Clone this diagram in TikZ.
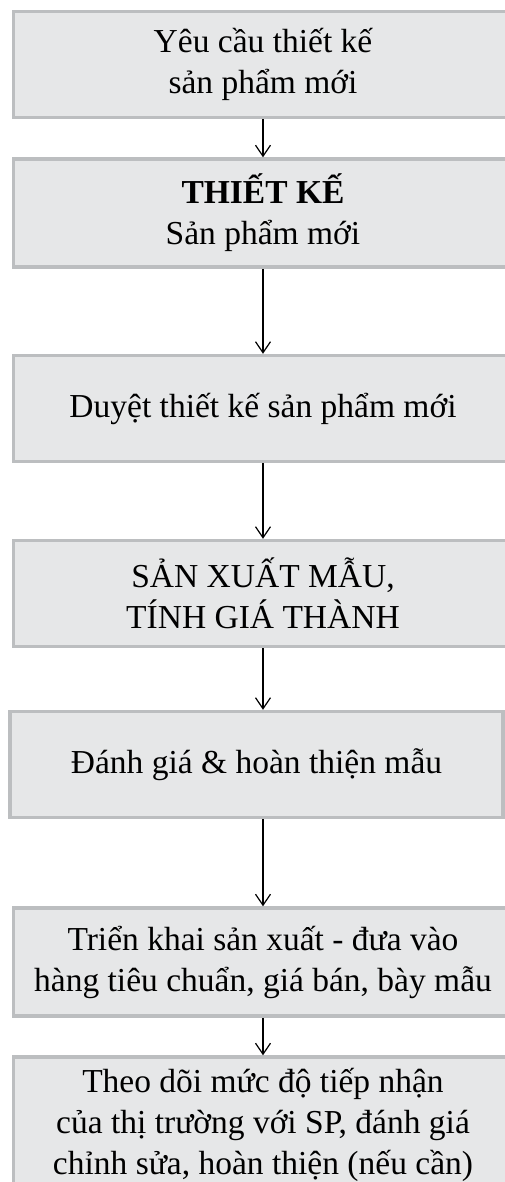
\documentclass[tikz,border=0pt]{standalone}
\usepackage{fontspec}
\setmainfont{Liberation Serif}
\usepackage{xcolor}
\usetikzlibrary{arrows.meta}

\definecolor{boxfill}{HTML}{E6E7E8}
\definecolor{boxline}{HTML}{BCBEC0}

\begin{document}
\begin{tikzpicture}[x=1bp, y=-1bp,
    box/.style={draw=boxline, fill=boxfill, line width=3.5bp, minimum width=499bp,
        minimum height=106bp, inner sep=0pt, align=center,
        font=\fontsize{33.5bp}{41bp}\selectfont},
    flow/.style={-{Straight Barb[length=11bp, width=15bp]}, line width=1.2bp}]
                \useasboundingbox[fill=white] (0, 0) rectangle (505, 1182);
                \clip (0, 0) rectangle (505, 1182);

                \node[box] (req) at (263, 64.5) {Yêu cầu thiết kế\\sản phẩm mới};
                \node[box, minimum height=108bp] (design) at (263, 213) {\textbf{THIẾT KẾ}\\Sản phẩm mới};
                \node[box] (review) at (263, 408.5) {Duyệt thiết kế sản phẩm mới};
                \node[box] (sample) at (263, 593.5) {SẢN XUẤT MẪU,\\TÍNH GIÁ THÀNH};
                \node[box, minimum width=493bp] (assess) at (256.5, 764.5) {Đánh giá \& hoàn thiện mẫu};
                \node[box, minimum height=108bp] (deploy) at (263, 962) {Triển khai sản xuất - đưa vào\\hàng tiêu chuẩn, giá bán, bày mẫu};
                \node[box, minimum height=136bp] (monitor) at (263, 1125) {Theo dõi mức độ tiếp nhận\\của thị trường với SP, đánh giá\\chỉnh sửa, hoàn thiện (nếu cần)};

                \draw[flow]
                (req.south) -- (req.south |- design.north);
                \draw[flow]
                (design.south) -- (design.south |- review.north);
                \draw[flow]
                (review.south) -- (review.south |- sample.north);
                \draw[flow]
                (sample.south) -- (sample.south |- assess.north);
                \draw[flow]
                (assess.south -| sample.south) -- (sample.south |- deploy.north);
                \draw[flow]
                (deploy.south) -- (deploy.south |- monitor.north);
            \end{tikzpicture}
\end{document}
